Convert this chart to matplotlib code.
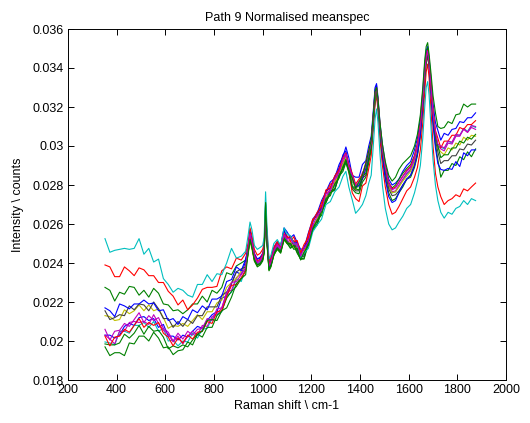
import matplotlib
matplotlib.use("Agg")
import matplotlib.pyplot as plt
import numpy as np

# Raman shift axis (cm-1) shared by every spectrum
raman_shift = [
    352, 372, 392, 412, 432, 452, 472, 492, 512, 532, 552, 572, 592, 612, 632,
    652, 672, 692, 712, 732, 752, 772, 792, 812, 832, 852, 872, 892, 912, 930,
    940, 948, 956, 966, 978, 990, 1000, 1006, 1012, 1018, 1026, 1034, 1046, 1060, 1074, 1088, 1100,
    1114, 1128, 1142, 1156, 1170, 1188, 1206, 1224, 1242, 1260, 1278, 1296, 1314, 1330, 1342,
    1354, 1368, 1382, 1396, 1410, 1424, 1436,
    1446, 1454, 1462, 1468, 1474, 1482, 1492, 1504, 1518, 1532, 1546,
    1560, 1576, 1592, 1608, 1624, 1636, 1648, 1658, 1666, 1672, 1678, 1684, 1692, 1700, 1710,
    1720, 1732, 1746, 1762, 1778, 1794, 1810, 1826, 1842, 1858, 1875,
]

# Normalised mean spectra, in units of 1e-5
cyan_hi = [
    2525, 2455, 2465, 2470, 2475, 2470, 2475, 2525, 2445, 2475, 2405, 2420, 2320, 2290, 2250,
    2270, 2260, 2235, 2225, 2290, 2290, 2340, 2305, 2345, 2340, 2400, 2475, 2425, 2435, 2460,
    2540, 2610, 2570, 2490, 2470, 2480, 2490, 2530, 2765, 2580, 2420, 2440, 2500, 2520, 2490, 2580, 2550,
    2540, 2500, 2495, 2425, 2450, 2475, 2560, 2595, 2625, 2700, 2715, 2765, 2790, 2845, 2870,
    2790, 2725, 2655, 2675, 2700, 2745, 2810,
    2850, 2990, 3140, 3190, 3120, 2960, 2800, 2680, 2600, 2570, 2580,
    2610, 2640, 2680, 2700, 2760, 2820, 2900, 3040, 3200, 3300, 3330, 3260, 3090, 2930, 2800,
    2720, 2660, 2630, 2660, 2650, 2680, 2690, 2720, 2700, 2730, 2720,
]
red_hi = [
    2390, 2380, 2330, 2330, 2380, 2360, 2335, 2375, 2365, 2335, 2335, 2300, 2300, 2255, 2230,
    2185, 2210, 2160, 2185, 2220, 2265, 2275, 2275, 2280, 2360, 2380, 2370, 2425, 2415, 2450,
    2500, 2580, 2540, 2470, 2440, 2450, 2470, 2500, 2700, 2550, 2410, 2430, 2480, 2510, 2490, 2560, 2540,
    2510, 2535, 2485, 2460, 2465, 2550, 2625, 2640, 2710, 2755, 2805, 2810, 2885, 2910, 2945,
    2875, 2760, 2730, 2715, 2795, 2810, 2885,
    2950, 3080, 3220, 3260, 3180, 3040, 2900, 2790, 2700, 2650, 2660,
    2690, 2730, 2770, 2790, 2840, 2890, 2980, 3120, 3280, 3380, 3420, 3350, 3180, 3000, 2860,
    2790, 2740, 2700, 2720, 2730, 2750, 2740, 2780, 2770, 2790, 2810,
]
green_hi = [
    2275, 2260, 2205, 2250, 2240, 2280, 2275, 2235, 2260, 2225, 2270, 2245, 2190, 2185, 2155,
    2160, 2140, 2160, 2190, 2190, 2230, 2200, 2260, 2245, 2275, 2350, 2340, 2385, 2400, 2415,
    2460, 2530, 2490, 2420, 2395, 2400, 2420, 2460, 2710, 2520, 2370, 2390, 2440, 2480, 2460, 2530, 2500,
    2480, 2495, 2455, 2420, 2425, 2505, 2575, 2600, 2670, 2710, 2760, 2775, 2845, 2870, 2915,
    2865, 2780, 2760, 2755, 2815, 2840, 2915,
    2980, 3100, 3230, 3270, 3200, 3070, 2940, 2840, 2760, 2720, 2730,
    2760, 2790, 2830, 2840, 2890, 2950, 3050, 3190, 3350, 3450, 3500, 3440, 3290, 3130, 3010,
    2930, 2840, 2875, 2875, 2910, 2900, 2945, 2930, 2970, 2945, 2985,
]
blue_hi = [
    2170, 2155, 2125, 2190, 2180, 2165, 2190, 2190, 2210, 2190, 2195, 2155, 2160, 2105, 2115,
    2085, 2125, 2110, 2160, 2145, 2180, 2160, 2215, 2215, 2230, 2305, 2315, 2380, 2360, 2420,
    2470, 2550, 2510, 2440, 2420, 2425, 2440, 2470, 2650, 2510, 2380, 2410, 2470, 2500, 2480, 2570, 2530,
    2530, 2500, 2505, 2445, 2480, 2515, 2610, 2655, 2685, 2770, 2785, 2845, 2885, 2955, 2975,
    2900, 2845, 2785, 2800, 2830, 2885, 2960,
    3020, 3150, 3290, 3310, 3230, 3090, 2950, 2830, 2740, 2710, 2720,
    2760, 2800, 2830, 2850, 2900, 2960, 3060, 3210, 3380, 3470, 3490, 3420, 3270, 3110, 2990,
    2910, 2880, 2875, 2885, 2880, 2920, 2895, 2965, 2950, 2980, 2980,
]
black_hi = [
    2155, 2110, 2120, 2135, 2130, 2180, 2160, 2190, 2185, 2155, 2200, 2165, 2115, 2115, 2070,
    2100, 2075, 2110, 2090, 2130, 2130, 2175, 2175, 2175, 2235, 2250, 2295, 2355, 2370, 2380,
    2450, 2520, 2480, 2420, 2390, 2400, 2420, 2460, 2620, 2500, 2370, 2390, 2450, 2480, 2460, 2530, 2510,
    2490, 2505, 2465, 2430, 2435, 2515, 2585, 2610, 2680, 2720, 2770, 2780, 2850, 2885, 2930,
    2875, 2790, 2770, 2770, 2835, 2850, 2935,
    2990, 3110, 3240, 3280, 3210, 3080, 2960, 2860, 2780, 2745, 2750,
    2770, 2800, 2830, 2850, 2900, 2960, 3060, 3200, 3340, 3420, 3460, 3410, 3280, 3140, 3030,
    2970, 2910, 2925, 2925, 2950, 2950, 2985, 2980, 3010, 3005, 3030,
]
yellow_hi = [
    2130, 2125, 2105, 2110, 2160, 2140, 2155, 2185, 2155, 2185, 2155, 2165, 2120, 2065, 2080,
    2075, 2090, 2075, 2105, 2135, 2110, 2150, 2150, 2195, 2210, 2275, 2300, 2320, 2360, 2385,
    2440, 2510, 2470, 2410, 2385, 2400, 2415, 2450, 2640, 2490, 2365, 2385, 2445, 2470, 2455, 2520, 2500,
    2505, 2480, 2480, 2420, 2460, 2495, 2580, 2630, 2660, 2740, 2755, 2815, 2850, 2910, 2940,
    2880, 2830, 2775, 2805, 2830, 2890, 2955,
    3000, 3120, 3250, 3280, 3210, 3090, 2970, 2870, 2790, 2760, 2765,
    2790, 2820, 2845, 2870, 2915, 2975, 3070, 3210, 3350, 3430, 3470, 3420, 3290, 3160, 3060,
    2990, 2970, 2955, 2990, 2980, 3015, 3005, 3045, 3030, 3055, 3050,
]
blue_lo = [
    2030, 2030, 2015, 2030, 2075, 2090, 2080, 2120, 2125, 2105, 2115, 2070, 2085, 2025, 2025,
    2005, 2030, 2020, 2050, 2075, 2065, 2105, 2135, 2150, 2220, 2230, 2295, 2355, 2340, 2410,
    2490, 2570, 2520, 2450, 2420, 2430, 2450, 2490, 2640, 2540, 2400, 2420, 2480, 2510, 2490, 2580, 2560,
    2530, 2545, 2505, 2470, 2475, 2555, 2625, 2655, 2720, 2765, 2815, 2835, 2905, 2945, 2995,
    2940, 2850, 2840, 2840, 2905, 2925, 3000,
    3050, 3170, 3300, 3320, 3250, 3120, 3010, 2910, 2830, 2800, 2810,
    2830, 2870, 2900, 2920, 2980, 3040, 3140, 3280, 3420, 3490, 3510, 3450, 3340, 3220, 3120,
    3080, 3030, 3065, 3055, 3085, 3090, 3125, 3120, 3145, 3145, 3170,
]
magenta_lo = [
    2030, 2010, 1985, 2050, 2050, 2095, 2100, 2095, 2100, 2085, 2135, 2090, 2055, 2035, 1995,
    2025, 1985, 2025, 2050, 2030, 2080, 2075, 2125, 2140, 2170, 2250, 2260, 2325, 2345, 2375,
    2470, 2540, 2500, 2430, 2400, 2410, 2430, 2470, 2660, 2520, 2380, 2400, 2460, 2490, 2470, 2540, 2520,
    2500, 2515, 2475, 2445, 2445, 2525, 2595, 2620, 2690, 2735, 2785, 2800, 2875, 2910, 2960,
    2905, 2820, 2800, 2795, 2865, 2880, 2955,
    3010, 3130, 3260, 3290, 3220, 3100, 2980, 2880, 2800, 2765, 2770,
    2800, 2830, 2860, 2880, 2930, 2990, 3090, 3230, 3370, 3450, 3490, 3440, 3310, 3170, 3070,
    3000, 2985, 2975, 3015, 3010, 3050, 3050, 3090, 3070, 3105, 3100,
]
red_lo = [
    2025, 1975, 2020, 2025, 2060, 2045, 2080, 2115, 2070, 2095, 2080, 2095, 2040, 2020, 1975,
    2015, 1990, 2030, 2010, 2045, 2050, 2100, 2090, 2150, 2155, 2230, 2285, 2290, 2325, 2360,
    2480, 2550, 2505, 2440, 2410, 2420, 2445, 2480, 2670, 2530, 2390, 2410, 2470, 2500, 2480, 2550, 2530,
    2535, 2510, 2515, 2450, 2495, 2530, 2615, 2660, 2690, 2775, 2785, 2845, 2880, 2940, 2965,
    2905, 2860, 2805, 2830, 2855, 2915, 2975,
    3025, 3145, 3275, 3300, 3235, 3110, 2990, 2895, 2815, 2780, 2790,
    2815, 2845, 2875, 2895, 2950, 3010, 3110, 3250, 3390, 3460, 3490, 3430, 3310, 3180, 3080,
    3040, 2990, 3025, 3025, 3055, 3055, 3095, 3085, 3110, 3110, 3130,
]
cyan_lo = [
    1995, 1990, 1980, 2050, 2050, 2040, 2080, 2080, 2095, 2070, 2100, 2050, 2065, 2000, 2005,
    1975, 2000, 1995, 2040, 2015, 2060, 2065, 2115, 2135, 2150, 2230, 2250, 2320, 2305, 2375,
    2465, 2530, 2495, 2425, 2395, 2405, 2425, 2465, 2700, 2515, 2375, 2395, 2455, 2485, 2465, 2545, 2515,
    2495, 2510, 2470, 2440, 2440, 2520, 2590, 2615, 2685, 2730, 2780, 2795, 2870, 2905, 2955,
    2900, 2815, 2795, 2790, 2860, 2875, 2950,
    3005, 3125, 3255, 3285, 3215, 3095, 2975, 2875, 2795, 2760, 2765,
    2795, 2825, 2855, 2875, 2925, 2985, 3085, 3225, 3365, 3445, 3485, 3435, 3305, 3165, 3065,
    3000, 2995, 2985, 3025, 3015, 3055, 3055, 3090, 3075, 3105, 3095,
]
green_lo = [
    1970, 1925, 1940, 1940, 1925, 1990, 1985, 2025, 2025, 2000, 2045, 2015, 1965, 1970, 1930,
    1950, 1955, 1995, 1980, 2035, 2050, 2105, 2110, 2105, 2155, 2170, 2225, 2295, 2320, 2340,
    2450, 2520, 2480, 2410, 2380, 2390, 2410, 2450, 2710, 2500, 2360, 2380, 2440, 2470, 2450, 2520, 2500,
    2500, 2470, 2475, 2415, 2455, 2490, 2575, 2620, 2645, 2730, 2745, 2805, 2835, 2895, 2920,
    2870, 2835, 2785, 2815, 2850, 2910, 2975,
    3030, 3150, 3280, 3300, 3240, 3120, 3010, 2920, 2850, 2820, 2840,
    2880, 2910, 2930, 2950, 3000, 3060, 3160, 3300, 3440, 3510, 3530, 3470, 3370, 3260, 3170,
    3100, 3090, 3095, 3125, 3115, 3160, 3165, 3215, 3200, 3215, 3215,
]
green_mid = [
    1985, 1980, 1980, 1990, 2035, 2015, 2040, 2080, 2035, 2075, 2050, 2055, 2020, 1960, 1975,
    1965, 1980, 1970, 2005, 2035, 2020, 2070, 2070, 2130, 2155, 2220, 2255, 2280, 2320, 2360,
    2455, 2525, 2485, 2415, 2390, 2395, 2415, 2455, 2650, 2505, 2365, 2385, 2445, 2475, 2455, 2525, 2505,
    2475, 2490, 2450, 2420, 2420, 2500, 2570, 2595, 2665, 2710, 2760, 2775, 2850, 2885, 2930,
    2880, 2795, 2780, 2775, 2845, 2860, 2935,
    2990, 3110, 3245, 3280, 3210, 3090, 2970, 2880, 2810, 2785, 2800,
    2830, 2860, 2885, 2905, 2950, 3010, 3100, 3230, 3370, 3450, 3480, 3430, 3300, 3160, 3050,
    3000, 2940, 2955, 2955, 2990, 2990, 3025, 3015, 3045, 3035, 3060,
]
magenta_mid = [
    2060, 2005, 2050, 2055, 2090, 2075, 2110, 2145, 2095, 2130, 2105, 2120, 2065, 2045, 2000,
    2040, 2010, 2050, 2030, 2060, 2065, 2115, 2105, 2165, 2170, 2245, 2300, 2305, 2340, 2375,
    2475, 2550, 2505, 2435, 2405, 2415, 2435, 2475, 2630, 2525, 2385, 2405, 2465, 2495, 2475, 2545, 2525,
    2525, 2495, 2500, 2435, 2475, 2510, 2595, 2640, 2670, 2755, 2770, 2830, 2865, 2930, 2960,
    2895, 2850, 2795, 2820, 2845, 2905, 2965,
    3015, 3135, 3265, 3295, 3225, 3105, 2985, 2890, 2810, 2775, 2785,
    2815, 2845, 2870, 2890, 2940, 3000, 3100, 3240, 3380, 3455, 3485, 3435, 3305, 3170, 3070,
    3010, 3000, 2990, 3025, 3020, 3060, 3055, 3085, 3070, 3095, 3085,
]

x_ticks = [200, 400, 600, 800, 1000, 1200, 1400, 1600, 1800, 2000]
y_ticks = [0.018, 0.020, 0.022, 0.024, 0.026, 0.028, 0.030, 0.032, 0.034, 0.036]
y_tick_labels = ["0.018", "0.02", "0.022", "0.024", "0.026", "0.028", "0.03", "0.032", "0.034", "0.036"]

# classic MATLAB line colours
C_B = (0.0, 0.0, 1.0)
C_G = (0.0, 0.5, 0.0)
C_R = (1.0, 0.0, 0.0)
C_C = (0.0, 0.75, 0.75)
C_M = (0.75, 0.0, 0.75)
C_Y = (0.75, 0.75, 0.0)
C_K = (0.25, 0.25, 0.25)

spectra = [
    (blue_lo, C_B), (green_hi, C_G), (red_hi, C_R), (cyan_lo, C_C), (magenta_lo, C_M),
    (yellow_hi, C_Y), (black_hi, C_K), (blue_hi, C_B), (green_mid, C_G), (red_lo, C_R),
    (cyan_hi, C_C), (magenta_mid, C_M), (green_lo, C_G),
]

plt.rcParams["font.family"] = ["Liberation Sans", "DejaVu Sans"]
plt.rcParams["font.size"] = 9

fig = plt.figure(figsize=(5.30, 4.23), dpi=100)
ax = fig.add_axes([68 / 530, 43 / 423, 438 / 530, 351 / 423])

x = np.array(raman_shift)
for values, colour in spectra:
    ax.plot(x, np.array(values) * 1e-5, color=colour, linewidth=0.8)

ax.set_xlim(200, 2000)
ax.set_ylim(0.018, 0.036)
ax.set_xticks(x_ticks)
ax.set_xticklabels([str(t) for t in x_ticks])
ax.set_yticks(y_ticks)
ax.set_yticklabels(y_tick_labels)
ax.tick_params(direction="in", top=True, right=True, length=4, width=0.7,
               labelsize=9, pad=3)
for spine in ax.spines.values():
    spine.set_linewidth(0.7)

ax.set_title("Path 9 Normalised meanspec", fontsize=9, pad=6)
ax.set_xlabel("Raman shift \\ cm-1", fontsize=9, labelpad=3)
ax.set_ylabel("Intensity \\ counts", fontsize=9, labelpad=6)

fig.savefig("out.png", dpi=100)
